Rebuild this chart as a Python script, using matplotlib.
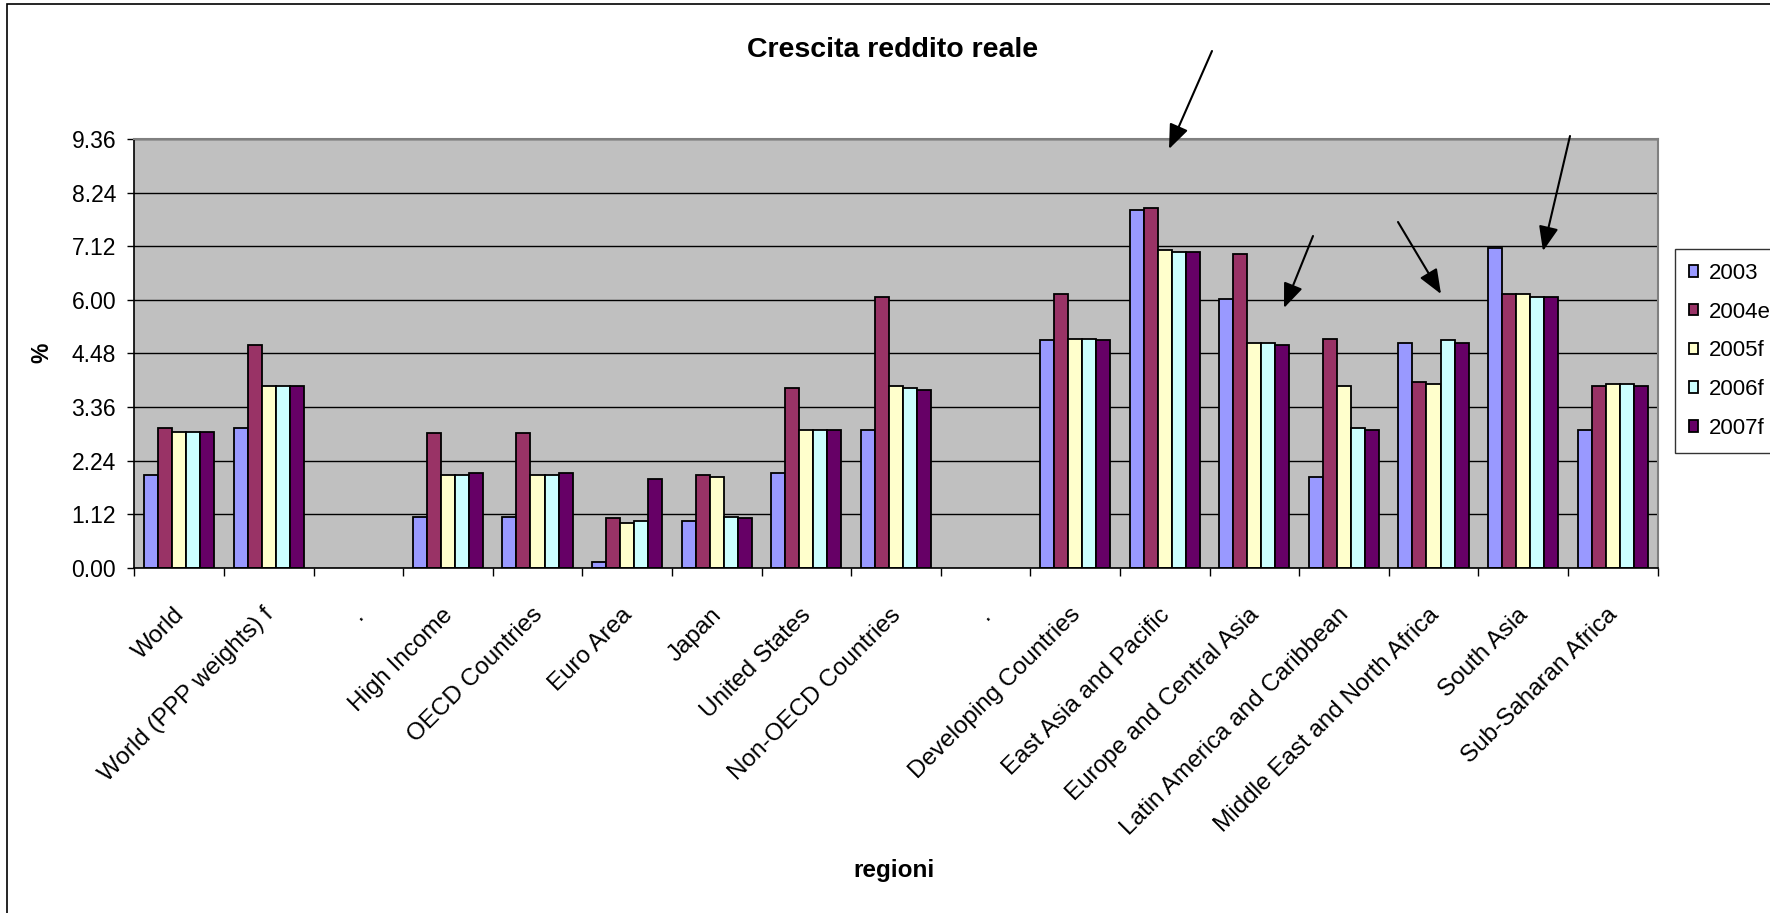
import numpy as np
import matplotlib
matplotlib.use("Agg")
import matplotlib.pyplot as plt
from matplotlib.transforms import ScaledTranslation
from matplotlib.patches import Rectangle

plt.rcParams['font.family'] = ['Liberation Sans', 'DejaVu Sans']

# data
categories = ["World", "World (PPP weights) f", ".", "High Income", "OECD Countries",
              "Euro Area", "Japan", "United States", "Non-OECD Countries", ".",
              "Developing Countries", "East Asia and Pacific", "Europe and Central Asia",
              "Latin America and Caribbean", "Middle East and North Africa",
              "South Asia", "Sub-Saharan Africa"]
nan = np.nan
y2003 = [1.94, 2.93, nan, 1.07, 1.07, 0.11, 0.98, 1.98, 2.88, nan, 4.75, 7.48, 5.61, 1.90, 4.70, 6.69, 2.88]
y2004e = [2.93, 4.66, nan, 2.81, 2.81, 1.03, 1.93, 3.76, 5.65, nan, 5.73, 7.51, 6.56, 4.78, 3.88, 5.73, 3.79]
y2005f = [2.84, 3.79, nan, 1.93, 1.93, 0.94, 1.90, 2.88, 3.79, nan, 4.78, 6.63, 4.70, 3.79, 3.83, 5.73, 3.83]
y2006f = [2.84, 3.79, nan, 1.93, 1.93, 0.98, 1.06, 2.88, 3.76, nan, 4.78, 6.60, 4.70, 2.93, 4.75, 5.65, 3.83]
y2007f = [2.84, 3.79, nan, 1.98, 1.98, 1.85, 1.03, 2.88, 3.71, nan, 4.75, 6.60, 4.66, 2.88, 4.70, 5.65, 3.79]
series_names = ["2003", "2004e", "2005f", "2006f", "2007f"]
colors = ["#9999FF", "#993366", "#FFFFCC", "#CCFFFF", "#660066"]

# y axis labels as printed on the chart (equally spaced gridlines)
ytick_values = [0, 1.12, 2.24, 3.36, 4.48, 5.60, 6.72, 7.84, 8.96]
ytick_labels = ["0.00", "1.12", "2.24", "3.36", "4.48", "6.00", "7.12", "8.24", "9.36"]

W, H = 1770, 913
fig = plt.figure(figsize=(W / 100, H / 100), dpi=100)
ax = fig.add_axes([134.3 / W, 1 - 567.7 / H, (1657.5 - 134.3) / W, (567.7 - 139) / H])
ax.set_facecolor("#C0C0C0")

x = np.arange(len(categories))
bw = 0.157
all_series = [y2003, y2004e, y2005f, y2006f, y2007f]
for k, vals in enumerate(all_series):
    ax.bar(x + (k - 2) * bw, vals, width=bw, color=colors[k], edgecolor="black",
           linewidth=1.3, label=series_names[k], zorder=3)

ax.set_xlim(-0.5, len(categories) - 0.5)
ax.set_ylim(0, 8.96)
ax.set_yticks(ytick_values)
ax.set_yticklabels(ytick_labels, fontsize=16.5)
ax.tick_params(axis="y", direction="out", length=4.7, width=1, pad=8.4, color="black")
ax.yaxis.grid(True, color="black", linewidth=1, zorder=1)

ax.set_xticks(x)
ax.set_xticklabels(categories, fontsize=17.5, rotation=45, ha="right", va="top",
                   rotation_mode="anchor")
ax.set_xticks(np.arange(len(categories) + 1) - 0.5, minor=True)
ax.tick_params(axis="x", which="major", length=0, pad=26)
ax.tick_params(axis="x", which="minor", direction="out", length=5.5, width=1, color="black")
shift = ScaledTranslation(-6 / 100, 0, fig.dpi_scale_trans)
for lab in ax.get_xticklabels():
    lab.set_transform(lab.get_transform() + shift)

for s in ["top", "right"]:
    ax.spines[s].set_color("#808080")
    ax.spines[s].set_linewidth(1.5)
for s in ["left", "bottom"]:
    ax.spines[s].set_color("black")
    ax.spines[s].set_linewidth(1.2)
ax.spines["bottom"].set_zorder(4)

# titles
fig.text(893 / W, 1 - 50 / H, "Crescita reddito reale", fontsize=20.5, fontweight="bold",
         ha="center", va="center")
fig.text(894 / W, 1 - 870 / H, "regioni", fontsize=17.5, fontweight="bold",
         ha="center", va="center")
fig.text(41.5 / W, 1 - 353 / H, "%", fontsize=16.5, fontweight="bold", rotation=90,
         ha="center", va="center")

# legend
leg = fig.legend(loc="upper left", bbox_to_anchor=(1675 / W, 1 - 249 / H),
                 fontsize=16, frameon=True, fancybox=False, handlelength=0.42,
                 handleheight=0.42, handletextpad=0.5, labelspacing=0.8,
                 borderpad=0.62, borderaxespad=0)
leg.get_frame().set_edgecolor("black")
leg.get_frame().set_linewidth(1)

# arrows (figure pixels)
arrows = [((1212, 51), (1169, 149)),
          ((1313, 236), (1284, 308)),
          ((1398, 222), (1441, 294)),
          ((1570, 136), (1543, 251))]
for start, end in arrows:
    fig.add_artist(matplotlib.patches.FancyArrowPatch(
        (start[0], H - start[1]), (end[0], H - end[1]), transform=None,
        arrowstyle="-|>,head_length=0.75,head_width=0.3", mutation_scale=20,
        color="black", linewidth=1.5, shrinkA=0, shrinkB=0))

# chart border (only left and top visible)
fig.add_artist(Rectangle((6.7 / W, -0.01), 1.1, 1 - 4 / H + 0.01, transform=fig.transFigure,
                         fill=False, edgecolor="black", linewidth=1.2))

fig.savefig("out.png", dpi=100)
